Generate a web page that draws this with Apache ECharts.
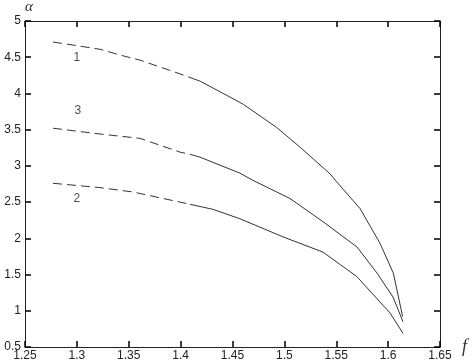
<!DOCTYPE html>
<html><head><meta charset="utf-8">
<script src="https://cdn.jsdelivr.net/npm/echarts@6/dist/echarts.min.js"></script>
<style>html,body{margin:0;padding:0;background:#fff}#c{width:473px;height:364px}</style>
</head><body><div id="c"></div>
<script>
// Curve 1
const c1DashF = [1.277, 1.3223, 1.3416, 1.3608, 1.3994, 1.409];
const c1DashA = [4.71, 4.61, 4.53, 4.46, 4.27, 4.22];
const c1SolidF = [1.409, 1.4187, 1.4476, 1.4604, 1.4926, 1.515, 1.544, 1.5504, 1.573, 1.5922, 1.605, 1.614];
const c1SolidA = [4.22, 4.17, 3.95, 3.85, 3.53, 3.26, 2.89, 2.78, 2.41, 1.93, 1.52, 0.92];
// Curve 3
const c3DashF = [1.277, 1.3223, 1.3608, 1.3994, 1.409];
const c3DashA = [3.52, 3.44, 3.38, 3.19, 3.16];
const c3SolidF = [1.409, 1.4187, 1.4572, 1.4698, 1.5054, 1.5372, 1.570, 1.5893, 1.6047, 1.6143];
const c3SolidA = [3.16, 3.12, 2.90, 2.80, 2.55, 2.23, 1.88, 1.52, 1.19, 0.85];
// Curve 2
const c2DashF = [1.277, 1.3223, 1.354, 1.3994, 1.409];
const c2DashA = [2.76, 2.70, 2.64, 2.50, 2.47];
const c2SolidF = [1.409, 1.4312, 1.4572, 1.4987, 1.5372, 1.570, 1.6018, 1.6143];
const c2SolidA = [2.47, 2.40, 2.27, 2.02, 1.81, 1.47, 0.97, 0.69];
// Curve labels
const labelText = ['1', '3', '2'];
const labelF = [1.30, 1.301, 1.30];
const labelA = [4.5, 3.76, 2.55];

const zip = (a, b) => a.map((v, i) => [v, b[i]]);
const lineCol = '#333';
const lineSeries = (f, a, dashed) => ({
  type: 'line', data: zip(f, a), showSymbol: false, symbol: 'none', silent: true,
  xAxisIndex: 0, yAxisIndex: 0,
  lineStyle: { color: lineCol, width: 1, type: dashed ? [9, 5] : 'solid' }, z: 3
});
const mkAxis = (extra) => Object.assign({
  type: 'value', splitLine: { show: false },
  axisLine: { show: true, onZero: false, lineStyle: { color: '#222' } },
  axisTick: { show: true, inside: true, length: 6, lineStyle: { color: '#000', width: 1.5 } }
}, extra);
const chart = echarts.init(document.getElementById('c'));
chart.setOption({
  animation: false,
  grid: { left: 25, right: 33, top: 20, bottom: 17 },
  xAxis: [
    mkAxis({
      min: 1.25, max: 1.65, interval: 0.05, position: 'bottom',
      axisLabel: { color: '#222', fontSize: 12, fontFamily: 'Liberation Sans', margin: 3 },
      name: 'f', nameLocation: 'end', nameGap: 22,
      nameTextStyle: { fontFamily: 'Liberation Serif', fontStyle: 'italic', fontSize: 18, color: '#333', verticalAlign: 'middle' }
    }),
    mkAxis({
      min: 1.25, max: 1.65, interval: 0.05, position: 'top', axisLabel: { show: false }
    })
  ],
  yAxis: [
    mkAxis({
      min: 0.5, max: 5, interval: 0.5, position: 'left',
      axisLabel: { color: '#222', fontSize: 12, fontFamily: 'Liberation Sans', margin: 4 },
      name: 'α', nameLocation: 'end', nameGap: 6,
      nameTextStyle: { fontFamily: 'Liberation Serif', fontStyle: 'italic', fontSize: 15, color: '#333', align: 'left' }
    }),
    mkAxis({
      min: 0.5, max: 5, interval: 0.5, position: 'right', axisLabel: { show: false }
    })
  ],
  series: [
    lineSeries(c1DashF, c1DashA, true),
    lineSeries(c1SolidF, c1SolidA, false),
    lineSeries(c3DashF, c3DashA, true),
    lineSeries(c3SolidF, c3SolidA, false),
    lineSeries(c2DashF, c2DashA, true),
    lineSeries(c2SolidF, c2SolidA, false),
    {
      type: 'scatter', symbolSize: 0, silent: true,
      data: labelF.map((f, i) => ({ value: [f, labelA[i]], name: labelText[i] })),
      label: { show: true, position: 'inside', formatter: p => p.name, color: '#222', fontSize: 12, fontFamily: 'Liberation Sans' }
    }
  ]
});
</script></body></html>
